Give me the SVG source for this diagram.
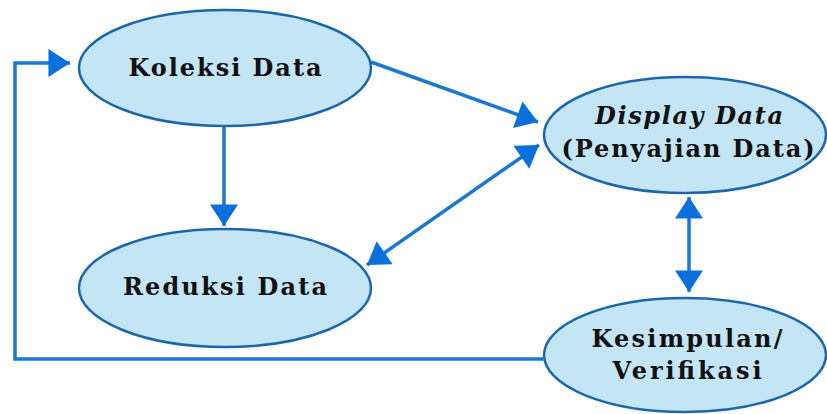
<svg xmlns="http://www.w3.org/2000/svg" width="827" height="414" viewBox="0 0 827 414">
<style>
.node ellipse{fill:#c3e5f5;stroke:#1c67ab;stroke-width:2.5}
.node text{font-family:"DejaVu Serif","Liberation Serif",serif;font-weight:bold;font-size:24px;fill:#111;text-anchor:middle}
.conn path,.conn line,.conn polyline{stroke:#1a78d0;stroke-width:3.5;fill:none}
</style>
<defs>
<marker id="ah" markerUnits="userSpaceOnUse" markerWidth="24" markerHeight="28" viewBox="0 0 20 26" refX="20" refY="13" orient="auto-start-reverse">
<path d="M0,0 L20,13 L0,26 Z" fill="#0b6fdc"/>
</marker>
</defs>
<rect width="827" height="414" fill="#ffffff"/>
<g class="conn" id="connectors">
<polyline points="543,359 15,359 15,63 70,63" marker-end="url(#ah)"/>
<line x1="224" y1="127" x2="224" y2="226" marker-end="url(#ah)"/>
<line x1="371" y1="62" x2="538" y2="122" marker-end="url(#ah)"/>
<line x1="367" y1="265" x2="539" y2="145" marker-start="url(#ah)" marker-end="url(#ah)"/>
<line x1="689" y1="197" x2="689" y2="292" marker-start="url(#ah)" marker-end="url(#ah)"/>
</g>
<g class="node" id="koleksi">
<ellipse cx="225" cy="68" rx="146" ry="58"/>
<text x="225" y="76" textLength="193" lengthAdjust="spacing">Koleksi Data</text>
</g>
<g class="node" id="reduksi">
<ellipse cx="225" cy="288" rx="146" ry="59"/>
<text x="225" y="295" textLength="204" lengthAdjust="spacing">Reduksi Data</text>
</g>
<g class="node" id="display">
<ellipse cx="685" cy="135" rx="141" ry="58"/>
<text x="689" y="124" font-style="italic" textLength="188" lengthAdjust="spacing">Display Data</text>
<text x="688" y="157" textLength="253" lengthAdjust="spacing">(Penyajian Data)</text>
</g>
<g class="node" id="kesimpulan">
<ellipse cx="685" cy="355" rx="141" ry="57"/>
<text x="687" y="347" textLength="191" lengthAdjust="spacing">Kesimpulan/</text>
<text x="687" y="379" textLength="149" lengthAdjust="spacing">Verifikasi</text>
</g>
</svg>
